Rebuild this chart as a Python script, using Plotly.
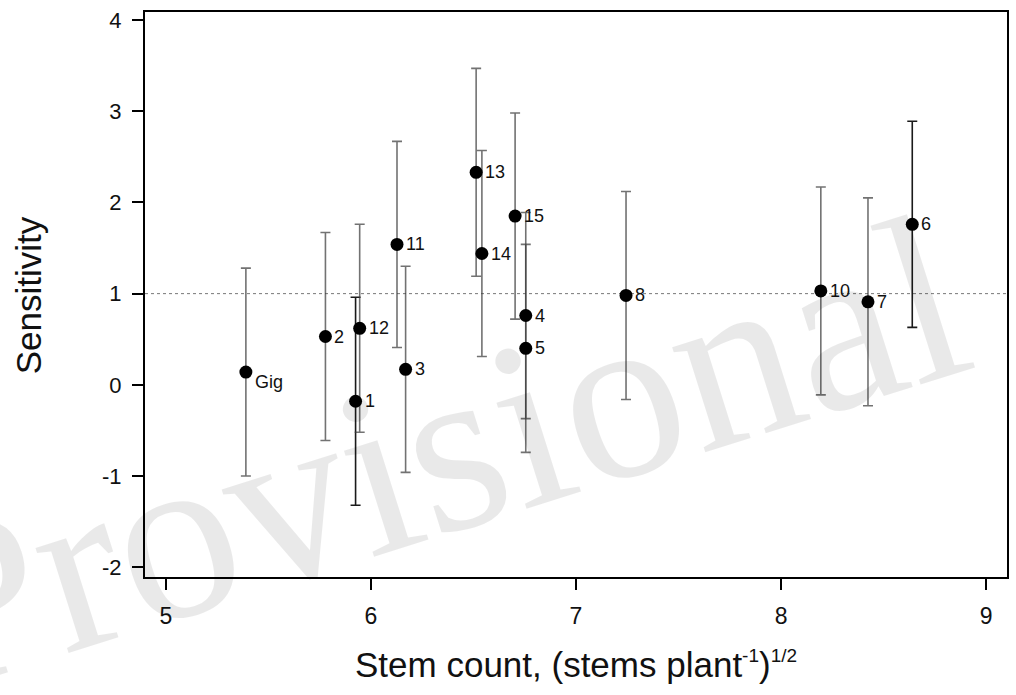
import plotly.graph_objects as go

# Clone means: stem count (sqrt scale) vs. sensitivity, with +/- error half-widths
labels = ["Gig", "1", "2", "3", "4", "5", "6", "7", "8", "10", "11", "12", "13", "14", "15"]
stem_count = [5.39, 5.925, 5.778, 6.169, 6.755, 6.755, 8.64, 8.424, 7.244, 8.194, 6.127, 5.945, 6.513, 6.541, 6.703]
sensitivity = [0.14, -0.18, 0.53, 0.17, 0.76, 0.40, 1.76, 0.91, 0.98, 1.03, 1.54, 0.62, 2.33, 1.44, 1.85]
error = [1.14, 1.14, 1.14, 1.13, 1.13, 1.14, 1.13, 1.14, 1.14, 1.14, 1.13, 1.14, 1.14, 1.13, 1.13]
dark_bars = ["1", "6"]

x_ticks = [5, 6, 7, 8, 9]
y_ticks = [-2, -1, 0, 1, 2, 3, 4]
y_tick_text = ["-2", "-1", "0", "1", "2", "3", "4"]
reference_level = 1

SANS = "Liberation Sans, Arial, sans-serif"

fig = go.Figure()

# error bars first, one trace each so the colours can differ
for lab, xv, yv, ev in zip(labels, stem_count, sensitivity, error):
    col = "#1a1a1a" if lab in dark_bars else "rgba(60,60,60,0.72)"
    fig.add_trace(go.Scatter(
        x=[xv], y=[yv], mode="markers",
        marker=dict(size=1, color="rgba(0,0,0,0)"),
        error_y=dict(type="data", array=[ev], visible=True,
                     color=col, thickness=1.6, width=5),
        showlegend=False, hoverinfo="skip",
    ))

# the points themselves
fig.add_trace(go.Scatter(
    x=stem_count, y=sensitivity, mode="markers",
    marker=dict(size=13, color="black"),
    showlegend=False,
))

# point labels
for lab, xv, yv in zip(labels, stem_count, sensitivity):
    fig.add_annotation(
        x=xv, y=yv, xref="x", yref="y", text=lab, showarrow=False,
        xanchor="left", yanchor="middle",
        xshift=7, yshift=(-10 if lab == "Gig" else 0),
        font=dict(family=SANS, size=18, color="#111"),
    )

# dotted reference line
fig.add_shape(type="line", xref="paper", x0=0, x1=1, yref="y",
              y0=reference_level, y1=reference_level,
              line=dict(color="#777", width=1, dash="dot"), layer="below")

# watermark
fig.add_annotation(
    xref="paper", yref="paper", x=0.335, y=0.22, text="Provisional",
    showarrow=False, textangle=-17.5, xanchor="center", yanchor="middle",
    font=dict(family="Liberation Serif, Times New Roman, serif", size=240,
              color="rgba(0,0,0,0.085)"),
)

# axis titles
fig.add_annotation(
    xref="paper", yref="paper", x=0.5, y=-0.155,
    text="Stem count, (stems plant<sup><span style='font-size:19px'>-1</span></sup>)"
         "<sup><span style='font-size:19px'>1/2</span></sup>",
    showarrow=False, xanchor="center", yanchor="middle",
    font=dict(family=SANS, size=35, color="#111"),
)
fig.add_annotation(
    xref="paper", yref="paper", x=-0.135, y=0.498, text="Sensitivity",
    showarrow=False, textangle=-90, xanchor="center", yanchor="middle",
    font=dict(family=SANS, size=35, color="#111"),
)

axis_common = dict(
    showline=True, linecolor="black", linewidth=2, mirror=True,
    showgrid=False, zeroline=False, ticks="outside", tickcolor="black",
    tickwidth=2, ticklen=11,
)

fig.update_xaxes(range=[4.898, 9.102], tickvals=x_ticks, ticklabelstandoff=6,
                 tickfont=dict(family=SANS, size=23, color="#111"),
                 **axis_common)
fig.update_yaxes(range=[-2.107, 4.088], tickvals=y_ticks, ticktext=y_tick_text,
                 ticklabelstandoff=6,
                 tickfont=dict(family=SANS, size=22, color="#111"),
                 **axis_common)

fig.update_layout(
    width=1016, height=695,
    margin=dict(l=145, r=7, t=12, b=118),
    plot_bgcolor="white", paper_bgcolor="white",
)

fig.write_html("out.html")
